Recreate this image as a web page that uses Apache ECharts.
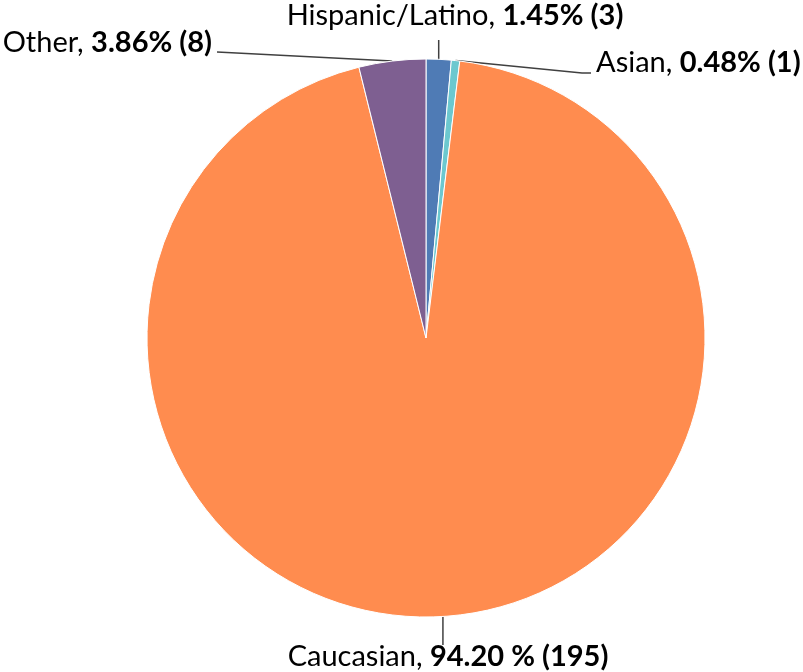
<!DOCTYPE html>
<html>
<head>
<meta charset="utf-8">
<script src="https://cdn.jsdelivr.net/npm/echarts@6/dist/echarts.min.js"></script>
<style>
  html, body { margin: 0; padding: 0; background: #fff; }
  #chart { width: 803px; height: 672px; }
</style>
</head>
<body>
<div id="chart"></div>
<script>
  // data
  const categories = ["Hispanic/Latino", "Asian", "Caucasian", "Other"];
  const counts = [3, 1, 195, 8];
  const percentLabels = ["1.45%", "0.48%", "94.20 %", "3.86%"];
  const colors = ["#4f7bb5", "#6cc8cf", "#ff8c4f", "#7e5f91"];

  // where each label sits, and where its leader line ends (null x = straight up/down)
  const labelSpots = [
    { x: 455, y: 16, align: "center", line: [[null, 40]] },
    { x: 596, y: 63, align: "left", line: [[582, 73], [591, 73]] },
    { x: 448, y: 657, align: "center", line: [[null, 645]] },
    { x: 212, y: 43, align: "right", line: [[217, 52]] },
  ];

  const chart = echarts.init(document.getElementById("chart"));

  const option = {
    animation: false,
    series: [
      {
        type: "pie",
        center: [426, 338],
        radius: 279,
        startAngle: 90,
        clockwise: true,
        avoidLabelOverlap: false,
        data: categories.map((name, i) => ({
          name: name,
          value: counts[i],
          itemStyle: { color: colors[i] },
        })),
        itemStyle: { borderColor: "#ffffff", borderWidth: 1 },
        label: {
          show: true,
          fontFamily: "Lato",
          fontSize: 29,
          color: "#000",
          formatter: (p) =>
            "{n|" + p.name + ", }{v|" + percentLabels[p.dataIndex] + " (" + p.value + ")}",
          rich: {
            n: { fontFamily: "Lato", fontSize: 29, color: "#000" },
            v: { fontFamily: "Lato", fontSize: 29, fontWeight: "bold", color: "#000" },
          },
        },
        labelLine: {
          show: true,
          length: 6,
          length2: 6,
          lineStyle: { color: "#404040", width: 1.5 },
        },
        labelLayout: (params) => {
          const s = labelSpots[params.dataIndex];
          const out = {
            x: s.x,
            y: s.y,
            align: s.align,
            verticalAlign: "middle",
          };
          const pts = params.labelLinePoints;
          if (pts && pts.length) {
            const start = pts[0];
            out.labelLinePoints = [start].concat(
              s.line.map((p) => [p[0] == null ? start[0] : p[0], p[1]])
            );
          }
          return out;
        },
        emphasis: { disabled: true },
      },
    ],
  };

  chart.setOption(option);
</script>
</body>
</html>
